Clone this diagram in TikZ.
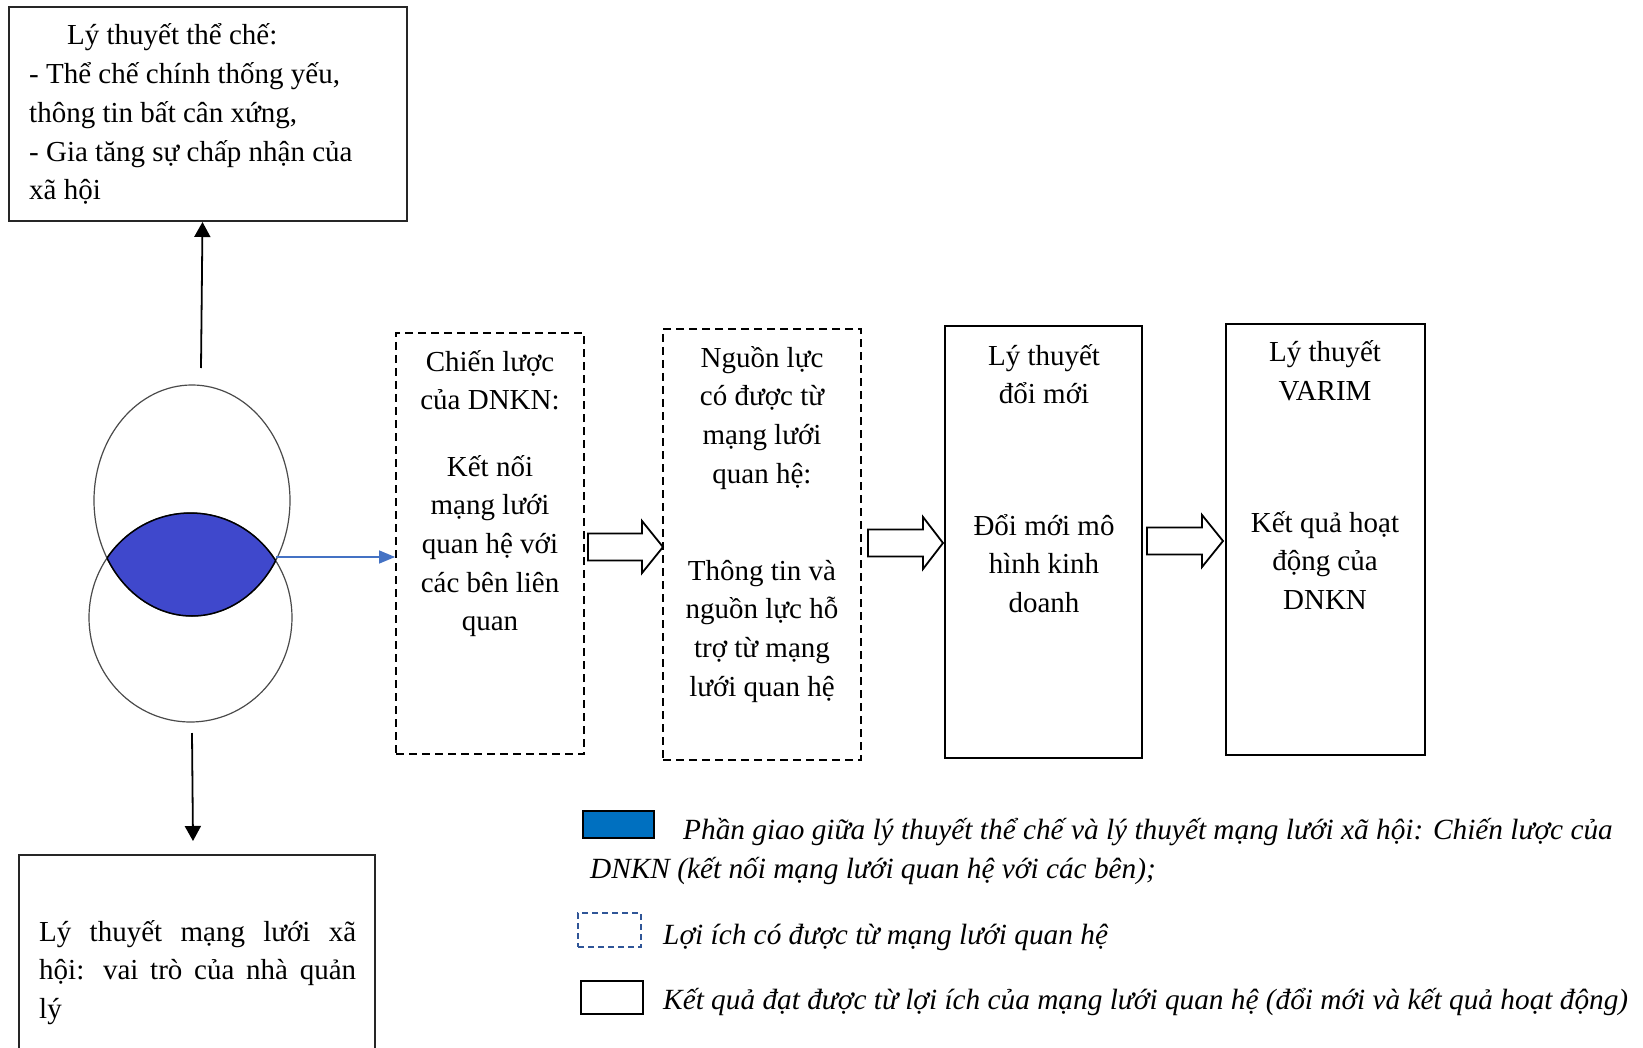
\documentclass[tikz,border=0pt]{standalone}
\usepackage{fontspec}
\setmainfont{Liberation Serif}
\usetikzlibrary{arrows.meta}
\definecolor{lensblue}{HTML}{3F48CC}
\definecolor{legblue}{HTML}{0070C0}
\definecolor{linkblue}{HTML}{4472C4}
\definecolor{dashblue}{HTML}{2F5597}
\definecolor{rimgray}{HTML}{4A4A4A}

% hollow block arrow: start x, head start x, tip x, centre y
\newcommand{\blockarrow}[4]{%
  \draw[hollow] (#1,#4-13.5) -- (#2,#4-13.5) -- (#2,#4-26) -- (#3,#4)
    -- (#2,#4+26) -- (#2,#4+13.5) -- (#1,#4+13.5) -- cycle;}

\begin{document}
\begin{tikzpicture}[x=1pt,y=-1pt,
  txt/.style={inner sep=0pt, anchor=base, font=\fontsize{29pt}{38.7pt}\selectfont},
  ltxt/.style={inner sep=0pt, anchor=base west, font=\fontsize{29.3pt}{38.7pt}\selectfont\itshape},
  dbox/.style={draw=black, line width=1.8pt, dash pattern=on 8pt off 5pt, inner sep=0pt},
  sbox/.style={draw=black, line width=2pt, inner sep=0pt},
  tbox/.style={draw=black!85, line width=1.3pt, inner sep=0pt},
  hollow/.style={draw=black, line width=1.8pt, fill=white, line join=miter},
  link/.style={line width=1.8pt, -{Triangle[length=15pt,width=16pt]}},
  rim/.style={draw=rimgray, line width=1.2pt},
]
\useasboundingbox (0,0) rectangle (1643,1048);

% theory boxes
\node[tbox, minimum width=398pt, minimum height=214pt] (inst) at (208,114) {};
\node[txt, anchor=base west] (insttext) at (29,45) {\parbox[t]{375pt}{\raggedright
  \hspace*{38pt}Lý thuyết thể chế:\\- Thể chế chính thống yếu,\\thông tin bất cân xứng,\\- Gia tăng sự chấp nhận của\\xã hội}};

\node[tbox, minimum width=356pt, minimum height=215pt] (net) at (197,962.5) {};
\node[txt, anchor=base west] (nettext) at (39,941) {\parbox[t]{317pt}{%
  \makebox[317pt][s]{Lý thuyết mạng lưới xã}\\
  \makebox[317pt][s]{hội: vai trò của nhà quản}\\lý}};

% overlapping circles and their intersection
\draw[rim] (192,500.5) ellipse [x radius=98pt, y radius=115.5pt];
\draw[rim] (190.5,617.5) ellipse [x radius=101.5pt, y radius=104.5pt];
\begin{scope}
  \clip (192,500.5) ellipse [x radius=98pt, y radius=115.5pt];
  \fill[lensblue] (190.5,617.5) ellipse [x radius=101.5pt, y radius=104.5pt];
  \draw[black, line width=1.5pt] (190.5,617.5) ellipse [x radius=101.5pt, y radius=104.5pt];
\end{scope}
\begin{scope}
  \clip (190.5,617.5) ellipse [x radius=101.5pt, y radius=104.5pt];
  \draw[black, line width=1.5pt] (192,500.5) ellipse [x radius=98pt, y radius=115.5pt];
\end{scope}
\coordinate (lensR) at (276,557);

% process boxes
\node[dbox, minimum width=188pt, minimum height=421pt] (strat) at (490,543.5) {};
\node[dbox, minimum width=198pt, minimum height=431pt] (res) at (762,544.5) {};
\node[sbox, minimum width=197pt, minimum height=432pt] (innov) at (1043.5,542) {};
\node[sbox, minimum width=199pt, minimum height=431pt] (varim) at (1325.5,539.5) {};

\node[txt] (strat1) at (490,371) {\parbox[t]{180pt}{\centering Chiến lược\\của DNKN:}};
\node[txt] (strat2) at (490,476) {\parbox[t]{180pt}{\centering Kết nối\\mạng lưới\\quan hệ với\\các bên liên\\quan}};
\node[txt] (res1) at (762,367) {\parbox[t]{190pt}{\centering Nguồn lực\\có được từ\\mạng lưới\\quan hệ:}};
\node[txt] (res2) at (762,580) {\parbox[t]{190pt}{\centering Thông tin và\\nguồn lực hỗ\\trợ từ mạng\\lưới quan hệ}};
\node[txt] (innov1) at (1044,365) {\parbox[t]{190pt}{\centering Lý thuyết\\đổi mới}};
\node[txt] (innov2) at (1044,535) {\parbox[t]{190pt}{\centering Đổi mới mô\\hình kinh\\doanh}};
\node[txt] (varim1) at (1325,362) {\parbox[t]{190pt}{\centering Lý thuyết\\VARIM}};
\node[txt] (varim2) at (1325,532) {\parbox[t]{190pt}{\centering Kết quả hoạt\\động của\\DNKN}};

% connectors
\coordinate (upfoot) at (201,368);
\coordinate (uptip) at (202.5,222);
\draw[link] (upfoot) -- (uptip);
\coordinate (dnfoot) at (192,733);
\coordinate (dntip) at (193,841);
\draw[link] (dnfoot) -- (dntip);
\draw[linkblue, line width=1.3pt, -{Triangle[length=16pt,width=13pt]}] (lensR) -- (lensR -| strat.west);

\blockarrow{588}{642}{663}{547}
\blockarrow{868}{923}{943}{543}
\blockarrow{1147}{1202}{1223}{541}

% legend
\node[draw=black, line width=2pt, fill=legblue, minimum width=71pt, minimum height=27pt, inner sep=0pt] (keyblue) at (618.5,824.5) {};
\node[draw=dashblue, line width=2pt, dash pattern=on 6pt off 4pt, minimum width=63pt, minimum height=34pt, inner sep=0pt] (keydash) at (609.5,930) {};
\node[draw=black, line width=2pt, minimum width=62pt, minimum height=33pt, inner sep=0pt] (keysolid) at (612,997.5) {};
\node[ltxt] (leg1) at (683,839) {Phần giao giữa lý thuyết thể chế và lý thuyết mạng lưới xã hội: Chiến lược của};
\node[ltxt] (leg2) at (590,878) {DNKN (kết nối mạng lưới quan hệ với các bên);};
\node[ltxt] (leg3) at (663,944) {Lợi ích có được từ mạng lưới quan hệ};
\node[ltxt] (leg4) at (663,1009) {Kết quả đạt được từ lợi ích của mạng lưới quan hệ (đổi mới và kết quả hoạt động)};
\end{tikzpicture}
\end{document}
